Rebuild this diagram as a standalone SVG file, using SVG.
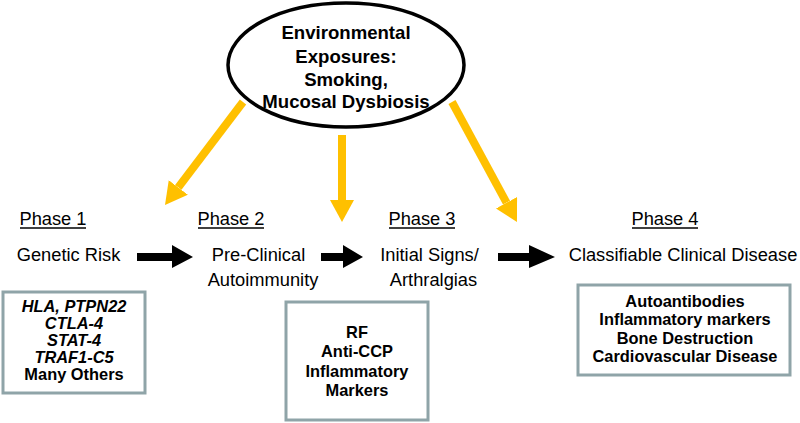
<svg xmlns="http://www.w3.org/2000/svg" width="800" height="423" viewBox="0 0 800 423">
<defs>
<marker id="yhead" viewBox="0 0 22 24" refX="0" refY="12" markerWidth="22" markerHeight="24" markerUnits="userSpaceOnUse" orient="auto">
<path d="M0,0 L22,12 L0,24 z" fill="#FFC000"/>
</marker>
<style>
.ell{fill:#fff;stroke:#000;stroke-width:3.5}
.etxt{font-family:"Liberation Sans",Arial,sans-serif;font-weight:bold;font-size:18.6px;fill:#000;text-anchor:middle}
.ph{font-family:"Liberation Sans",Arial,sans-serif;font-size:18.3px;fill:#000;text-anchor:middle}
.ul{stroke:#000;stroke-width:1.4}
.box{fill:#fff;stroke:#8FA4A8;stroke-width:3}
.btxt{font-family:"Liberation Sans",Arial,sans-serif;font-weight:bold;font-size:16.4px;fill:#000;text-anchor:middle}
.it{font-style:italic}
.yarr{stroke:#FFC000;stroke-width:8;fill:none;marker-end:url(#yhead)}
.barr{fill:#000}
</style>
</defs>
<rect width="800" height="423" fill="#fff"/>

<g id="connectors">
<line class="yarr" x1="243" y1="102" x2="178.3" y2="187.4"/>
<line class="yarr" x1="342" y1="135" x2="342" y2="200"/>
<line class="yarr" x1="452" y1="102" x2="506.5" y2="202.7"/>
<polygon class="barr" points="137,253 172,253 172,245 193,257 172,268 172,261 137,261"/>
<polygon class="barr" points="321,253 343,253 343,245 363,257 343,268 343,261 321,261"/>
<polygon class="barr" points="498,253 529,253 529,245 555,257 529,268 529,261 498,261"/>
</g>

<g id="environment">
<ellipse class="ell" cx="346" cy="65" rx="118" ry="62"/>
<text class="etxt" x="346" y="39">Environmental</text>
<text class="etxt" x="346" y="63">Exposures:</text>
<text class="etxt" x="346" y="86">Smoking,</text>
<text class="etxt" x="346" y="108">Mucosal Dysbiosis</text>
</g>

<g id="phase1">
<text class="ph" x="53" y="225">Phase 1</text>
<line class="ul" x1="20" y1="228" x2="86" y2="228"/>
<text class="ph" x="68.5" y="261">Genetic Risk</text>
</g>

<g id="phase2">
<text class="ph" x="231" y="225">Phase 2</text>
<line class="ul" x1="198" y1="228" x2="264" y2="228"/>
<text class="ph" x="258.5" y="261">Pre-Clinical</text>
<text class="ph" x="263" y="286">Autoimmunity</text>
</g>

<g id="phase3">
<text class="ph" x="422" y="225">Phase 3</text>
<line class="ul" x1="389" y1="228" x2="455" y2="228"/>
<text class="ph" x="429.5" y="261">Initial Signs/</text>
<text class="ph" x="433.5" y="286">Arthralgias</text>
</g>

<g id="phase4">
<text class="ph" x="665" y="225">Phase 4</text>
<line class="ul" x1="632" y1="228" x2="698" y2="228"/>
<text class="ph" x="683" y="261">Classifiable Clinical Disease</text>
</g>

<g id="genes-box">
<rect class="box" x="3" y="292" width="142" height="101"/>
<text class="btxt it" x="74" y="312">HLA, PTPN22</text>
<text class="btxt it" x="74" y="329">CTLA-4</text>
<text class="btxt it" x="74" y="346">STAT-4</text>
<text class="btxt it" x="74" y="363">TRAF1-C5</text>
<text class="btxt" x="74" y="380">Many Others</text>
</g>

<g id="markers-box">
<rect class="box" x="286" y="302" width="142" height="118"/>
<text class="btxt" x="357" y="338">RF</text>
<text class="btxt" x="357" y="357">Anti-CCP</text>
<text class="btxt" x="357" y="377">Inflammatory</text>
<text class="btxt" x="357" y="396">Markers</text>
</g>

<g id="disease-box">
<rect class="box" x="578" y="285" width="212" height="90"/>
<text class="btxt" x="685" y="307">Autoantibodies</text>
<text class="btxt" x="685" y="325">Inflammatory markers</text>
<text class="btxt" x="685" y="344">Bone Destruction</text>
<text class="btxt" x="685" y="362">Cardiovascular Disease</text>
</g>
</svg>
